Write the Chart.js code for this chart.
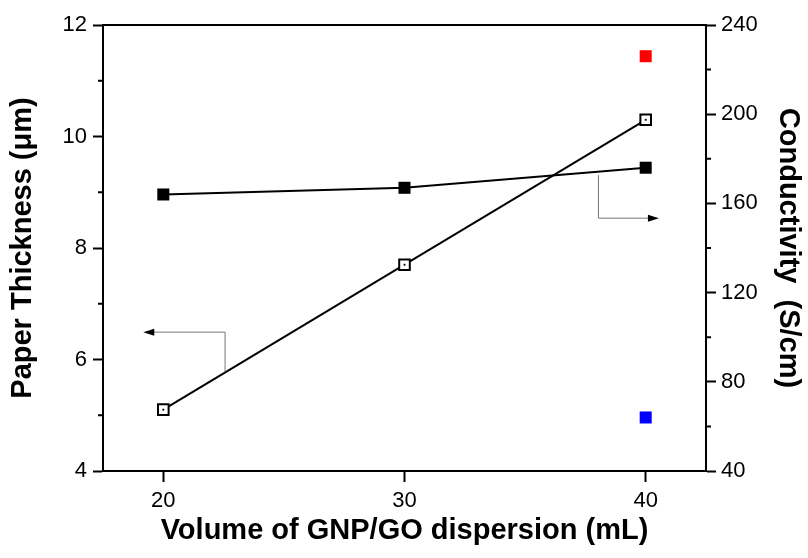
<!DOCTYPE html>
<html>
<head>
<meta charset="utf-8">
<script src="https://cdn.jsdelivr.net/npm/chart.js@4/dist/chart.umd.min.js"></script>
<style>
  html, body { margin: 0; padding: 0; background: #fff; }
  #wrap { width: 808px; height: 558px; }
</style>
</head>
<body>
<div id="wrap"><canvas id="myChart" width="808" height="558"></canvas></div>
<script>
// data
const volumes = [20, 30, 40];                 // mL
const thickness = [5.1, 7.7, 10.3];           // um, left axis
const conductivity = [164, 167, 176];         // S/cm, right axis
const redPoint = [{ x: 40, y: 226 }];
const bluePoint = [{ x: 40, y: 64 }];

const xTicks = [20, 30, 40];
const yTicks = [4, 6, 8, 10, 12];
const y2Ticks = [40, 80, 120, 160, 200, 240];

const FONT = "'Liberation Sans', Arial, sans-serif";

function pts(ys) {
     return volumes.map((v, i) => ({ x: v, y: ys[i] }));
}

// minor ticks, top frame line and the two pointer arrows
const extras = {
     id: 'extras',
     afterDraw(chart) {
          const c = chart.ctx, a = chart.chartArea;
          const x = chart.scales.x, y = chart.scales.y, y2 = chart.scales.y2;
          c.save();
          c.strokeStyle = '#000';
          c.lineWidth = 2;
          c.beginPath();
          c.moveTo(a.left - 1, a.top);
          c.lineTo(a.right + 1, a.top);
          // minor ticks halfway between majors
          for (let i = 0; i < yTicks.length - 1; i++) {
               const py = y.getPixelForValue((yTicks[i] + yTicks[i + 1]) / 2);
               c.moveTo(a.left, py); c.lineTo(a.left - 5, py);
          }
          for (let i = 0; i < y2Ticks.length - 1; i++) {
               const py = y2.getPixelForValue((y2Ticks[i] + y2Ticks[i + 1]) / 2);
               c.moveTo(a.right, py); c.lineTo(a.right + 5, py);
          }
          c.stroke();

          function arrow(scaleY, xv, yFrom, yTo, xTip) {
               const px = x.getPixelForValue(xv);
               const p1 = scaleY.getPixelForValue(yFrom);
               const p2 = scaleY.getPixelForValue(yTo);
               const tip = x.getPixelForValue(xTip);
               const dir = tip > px ? 1 : -1;
               c.strokeStyle = '#777';
               c.fillStyle = '#000';
               c.lineWidth = 1;
               c.beginPath();
               c.moveTo(px + 0.5, p1);
               c.lineTo(px + 0.5, p2 + 0.5);
               c.lineTo(tip - dir * 10, p2 + 0.5);
               c.stroke();
               c.beginPath();
               c.moveTo(tip, p2 + 0.5);
               c.lineTo(tip - dir * 11, p2 - 3);
               c.lineTo(tip - dir * 11, p2 + 4);
               c.closePath();
               c.fill();
          }
          arrow(y, 22.54, 5.78, 6.5, 19.17);
          arrow(y2, 38.02, 172.7, 153.6, 40.55);
          c.restore();
     }
};

const ctx = document.getElementById('myChart').getContext('2d');
const myChart = new Chart(ctx, {
     type: 'line',
     data: {
          datasets: [{
               data: pts(thickness),
               yAxisID: 'y',
               borderColor: '#000',
               borderWidth: 2,
               pointStyle: 'rect',
               pointRadius: 7.5,
               pointBackgroundColor: '#fff',
               pointBorderColor: '#000',
               pointBorderWidth: 2,
               order: 2
          }, {
               // centre dot of the open squares
               data: pts(thickness),
               yAxisID: 'y',
               showLine: false,
               pointStyle: 'rect',
               pointRadius: 1.3,
               pointBackgroundColor: '#000',
               pointBorderWidth: 0,
               order: 1
          }, {
               data: pts(conductivity),
               yAxisID: 'y2',
               borderColor: '#000',
               borderWidth: 2,
               pointStyle: 'rect',
               pointRadius: 8.5,
               pointBackgroundColor: '#000',
               pointBorderWidth: 0,
               order: 3
          }, {
               data: redPoint,
               yAxisID: 'y2',
               showLine: false,
               pointStyle: 'rect',
               pointRadius: 8.5,
               pointBackgroundColor: '#ff0000',
               pointBorderWidth: 0
          }, {
               data: bluePoint,
               yAxisID: 'y2',
               showLine: false,
               pointStyle: 'rect',
               pointRadius: 8.5,
               pointBackgroundColor: '#0000ff',
               pointBorderWidth: 0
          }]
     },
     options: {
          responsive: false,
          animation: false,
          layout: { padding: { top: 25, left: 0, right: 0, bottom: 0 } },
          plugins: {
               legend: { display: false },
               tooltip: { enabled: false }
          },
          scales: {
               x: {
                    type: 'linear',
                    min: 17.5,
                    max: 42.5,
                    afterBuildTicks: s => { s.ticks = xTicks.map(v => ({ value: v })); },
                    afterFit: s => { s.height = 87; },
                    grid: { drawOnChartArea: false, tickLength: 11, tickWidth: 2, tickColor: '#000' },
                    border: { color: '#000', width: 2 },
                    ticks: { color: '#000', padding: 6, font: { family: FONT, size: 22 } },
                    title: {
                         display: true,
                         text: 'Volume of GNP/GO dispersion (mL)',
                         color: '#000',
                         padding: { bottom: 13 },
                         font: { family: FONT, size: 29, weight: 'bold', lineHeight: 1 }
                    }
               },
               y: {
                    position: 'left',
                    min: 4,
                    max: 12,
                    afterBuildTicks: s => { s.ticks = yTicks.map(v => ({ value: v })); },
                    afterFit: s => { s.width = 103; },
                    grid: { drawOnChartArea: false, tickLength: 10, tickWidth: 2, tickColor: '#000' },
                    border: { color: '#000', width: 2 },
                    ticks: { color: '#000', padding: 6, font: { family: FONT, size: 22 } },
                    title: {
                         display: true,
                         text: 'Paper Thickness (μm)',
                         color: '#000',
                         padding: { top: 8 },
                         font: { family: FONT, size: 29, weight: 'bold', lineHeight: 1 }
                    }
               },
               y2: {
                    position: 'right',
                    min: 40,
                    max: 240,
                    afterBuildTicks: s => { s.ticks = y2Ticks.map(v => ({ value: v })); },
                    afterFit: s => { s.width = 102; },
                    grid: { drawOnChartArea: false, tickLength: 10, tickWidth: 2, tickColor: '#000' },
                    border: { color: '#000', width: 2 },
                    ticks: { color: '#000', padding: 5, font: { family: FONT, size: 22 } },
                    title: {
                         display: true,
                         text: 'Conductivity  (S/cm)',
                         color: '#000',
                         padding: { top: 6 },
                         font: { family: FONT, size: 29, weight: 'bold', lineHeight: 1 }
                    }
               }
          }
     },
     plugins: [extras]
});
</script>
</body>
</html>
